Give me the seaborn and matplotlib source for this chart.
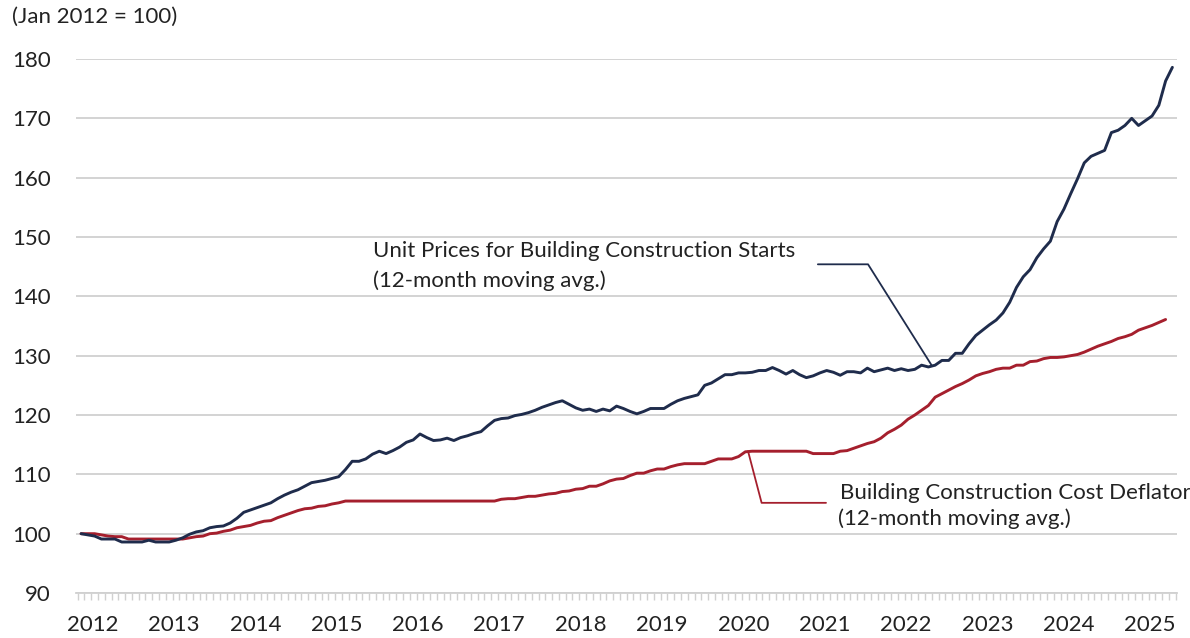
import numpy as np
import pandas as pd
import matplotlib.pyplot as plt
import seaborn as sns

# Monthly values, Jan 2012 onward (Jan 2012 = 100)
unit_prices = [
    100.0, 99.8, 99.6, 99.1, 99.1, 99.1, 98.6, 98.6, 98.6, 98.6, 98.9, 98.6,          # 2012
    98.6, 98.6, 98.9, 99.3, 99.9, 100.3, 100.5, 101.0, 101.2, 101.3, 101.8, 102.6,   # 2013
    103.6, 104.0, 104.4, 104.8, 105.2, 105.9, 106.5, 107.0, 107.4, 108.0, 108.6, 108.8,  # 2014
    109.0, 109.3, 109.6, 110.8, 112.2, 112.2, 112.6, 113.4, 113.9, 113.5, 114.0, 114.6,  # 2015
    115.4, 115.8, 116.8, 116.2, 115.7, 115.8, 116.1, 115.7, 116.2, 116.5, 116.9, 117.2,  # 2016
    118.2, 119.1, 119.4, 119.5, 119.9, 120.1, 120.4, 120.8, 121.3, 121.7, 122.1, 122.4,  # 2017
    121.8, 121.2, 120.8, 121.0, 120.6, 121.0, 120.7, 121.5, 121.1, 120.6, 120.2, 120.6,  # 2018
    121.1, 121.1, 121.1, 121.8, 122.4, 122.8, 123.1, 123.4, 125.0, 125.4, 126.1, 126.8,  # 2019
    126.8, 127.1, 127.1, 127.2, 127.5, 127.5, 128.0, 127.5, 126.9, 127.5, 126.8, 126.3,  # 2020
    126.6, 127.1, 127.5, 127.2, 126.7, 127.3, 127.3, 127.1, 127.9, 127.3, 127.6, 127.9,  # 2021
    127.5, 127.8, 127.5, 127.7, 128.4, 128.1, 128.4, 129.2, 129.2, 130.4, 130.4, 132.0,  # 2022
    133.4, 134.3, 135.2, 136.0, 137.2, 139.0, 141.5, 143.3, 144.5, 146.5, 148.0, 149.3,  # 2023
    152.6, 154.7, 157.3, 159.8, 162.5, 163.6, 164.1, 164.6, 167.6, 168.0, 168.8, 170.0,  # 2024
    168.8, 169.6, 170.4, 172.2, 176.3, 178.6,                                        # 2025
]

cost_deflator = [
    100.0, 100.0, 100.0, 99.8, 99.6, 99.5, 99.5, 99.1, 99.1, 99.1, 99.1, 99.1,        # 2012
    99.1, 99.1, 99.1, 99.1, 99.3, 99.5, 99.6, 100.0, 100.1, 100.4, 100.6, 101.0,     # 2013
    101.2, 101.4, 101.8, 102.1, 102.2, 102.7, 103.1, 103.5, 103.9, 104.2, 104.3, 104.6,  # 2014
    104.7, 105.0, 105.2, 105.5, 105.5, 105.5, 105.5, 105.5, 105.5, 105.5, 105.5, 105.5,  # 2015
    105.5, 105.5, 105.5, 105.5, 105.5, 105.5, 105.5, 105.5, 105.5, 105.5, 105.5, 105.5,  # 2016
    105.5, 105.5, 105.8, 105.9, 105.9, 106.1, 106.3, 106.3, 106.5, 106.7, 106.8, 107.1,  # 2017
    107.2, 107.5, 107.6, 108.0, 108.0, 108.4, 108.9, 109.2, 109.3, 109.8, 110.2, 110.2,  # 2018
    110.6, 110.9, 110.9, 111.3, 111.6, 111.8, 111.8, 111.8, 111.8, 112.2, 112.6, 112.6,  # 2019
    112.6, 113.0, 113.8, 113.9, 113.9, 113.9, 113.9, 113.9, 113.9, 113.9, 113.9, 113.9,  # 2020
    113.5, 113.5, 113.5, 113.5, 113.9, 114.0, 114.4, 114.8, 115.2, 115.5, 116.1, 117.0,  # 2021
    117.6, 118.3, 119.3, 120.0, 120.8, 121.6, 123.0, 123.6, 124.2, 124.8, 125.3, 125.9,  # 2022
    126.6, 127.0, 127.3, 127.7, 127.9, 127.9, 128.4, 128.4, 129.0, 129.1, 129.5, 129.7,  # 2023
    129.7, 129.8, 130.0, 130.2, 130.6, 131.1, 131.6, 132.0, 132.4, 132.9, 133.2, 133.6,  # 2024
    134.3, 134.7, 135.1, 135.6, 136.1,                                               # 2025
]

years = list(range(2012, 2026))
y_ticks = list(range(90, 190, 10))

navy = '#1f2c4c'
red = '#a51f2d'
grid_gray = '#d0d0d0'
fs = 16

df_blue = pd.DataFrame({'month': np.arange(len(unit_prices)), 'value': unit_prices})
df_red = pd.DataFrame({'month': np.arange(len(cost_deflator)), 'value': cost_deflator})

sns.set_theme(style="white")
plt.rcParams['font.family'] = ['Lato', 'DejaVu Sans']

fig = plt.figure(figsize=(11.9, 6.38), dpi=100)
ax = fig.add_axes([0.0639, 0.0705, 0.9250, 0.8370])

sns.lineplot(data=df_red, x='month', y='value', ax=ax, color=red, linewidth=2.1)
sns.lineplot(data=df_blue, x='month', y='value', ax=ax, color=navy, linewidth=2.1)

ax.set_xlim(-0.74, 161.65)
ax.set_ylim(90, 180)
ax.set_yticks(y_ticks)
ax.yaxis.grid(True, color=grid_gray, linewidth=1.3)
ax.set_axisbelow(True)
ax.tick_params(axis='y', length=0, pad=18, labelsize=fs, colors='#222222')

# year labels, monthly minor ticks
ax.set_xticks([12 * i + 1.7 for i in range(len(years))])
ax.set_xticklabels([str(y) for y in years])
ax.set_xticks(np.arange(-0.5, 162, 1), minor=True)
ax.tick_params(axis='x', which='major', length=0, pad=16, labelsize=fs, colors='#222222')
ax.tick_params(axis='x', which='minor', length=5, width=1, color=grid_gray, direction='out', bottom=True)

for s in ['top', 'right', 'left']:
    ax.spines[s].set_visible(False)
ax.spines['bottom'].set_color(grid_gray)
ax.spines['bottom'].set_linewidth(1.3)
ax.set_xlabel('')
ax.set_ylabel('')

# annotations
ax.plot([108.7, 116.1, 125.5], [145.4, 145.4, 128.35], color=navy, linewidth=1.3)
ax.text(43.1, 147.6, 'Unit Prices for Building Construction Starts', fontsize=fs,
        color='#222222', va='center', ha='left')
ax.text(43.1, 142.7, '(12-month moving avg.)', fontsize=fs,
        color='#222222', va='center', ha='left')

ax.plot([98.4, 100.4, 109.9], [113.9, 105.2, 105.2], color=red, linewidth=1.3)
ax.text(111.9, 106.9, 'Building Construction Cost Deflator', fontsize=fs,
        color='#222222', va='center', ha='left')
ax.text(111.7, 102.5, '(12-month moving avg.)', fontsize=fs,
        color='#222222', va='center', ha='left')

fig.text(0.010, 0.973, '(Jan 2012 = 100)', fontsize=fs, color='#222222', va='center', ha='left')

plt.savefig('out.png', dpi=100)
